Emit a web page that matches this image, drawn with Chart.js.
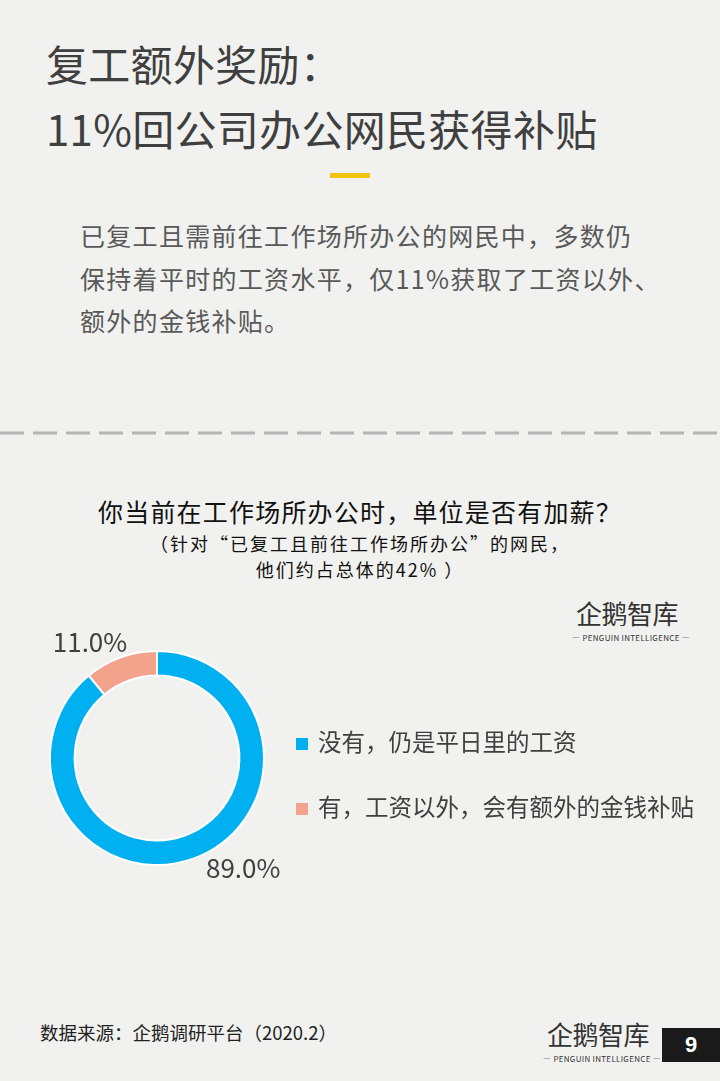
<!DOCTYPE html>
<html lang="zh">
<head>
  <meta charset="UTF-8">
  <title>复工额外奖励</title>
  <script src="https://cdn.jsdelivr.net/npm/chart.js@4/dist/chart.umd.min.js"></script>
  <style>
    html, body { margin: 0; padding: 0; }
    body { width: 720px; height: 1081px; background: #f1f2ef; position: relative; overflow: hidden;
           font-family: "Noto Sans CJK SC", "Noto Sans", sans-serif; }
    .abs { position: absolute; white-space: nowrap; }
    #h1 { left: 46px; top: 30px; font-size: 42px; line-height: 65px; color: #3f3f3f; letter-spacing: 0.3px; }
    #bar { left: 330px; top: 173px; width: 40px; height: 5px; background: #f2c40c; }
    #intro { left: 80px; top: 214px; font-size: 25px; line-height: 42.5px; color: #595959; letter-spacing: 1.3px; }
    #dash { left: 0; top: 431px; width: 720px; height: 4px; }
    #ctitle { left: 0; width: 720px; top: 493px; text-align: center; font-size: 25px; line-height: 36px; color: #111; letter-spacing: 1.2px; }
    .sub { left: 0; width: 720px; text-align: center; font-size: 18px; line-height: 26px; color: #111; letter-spacing: 2px; }
    .logo { text-align: center; color: #333; }
    .logo .big { font-size: 26px; line-height: 38px; letter-spacing: -0.5px; }
    .logo .small { font-size: 8px; line-height: 12px; letter-spacing: 0.3px; }
    #legend { left: 296px; top: 726px; font-size: 23.5px; color: #404040; }
    #legend div { height: 30px; line-height: 30px; margin-bottom: 35px; }
    #legend span.sw { display: inline-block; width: 12px; height: 12px; margin-right: 10px; vertical-align: 1px; }
    #src { left: 40px; top: 1018px; font-size: 18.5px; line-height: 28px; color: #222; }
    #page { left: 662px; top: 1028px; width: 58px; height: 34px; background: #1a1a1a; color: #fff;
            font-size: 22px; font-weight: bold; line-height: 34px; text-align: center; font-family: "Liberation Sans", sans-serif; }
    #donut { position: absolute; left: 7px; top: 608px; }
  </style>
</head>
<body>
<div id="h1" class="abs">复工额外奖励：<br>11%回公司办公网民获得补贴</div>
<div id="bar" class="abs"></div>
<div id="intro" class="abs">已复工且需前往工作场所办公的网民中，多数仍<br>保持着平时的工资水平，仅11%获取了工资以外、<br>额外的金钱补贴。</div>
<svg id="dash" class="abs" width="720" height="4"><line x1="0" y1="2" x2="720" y2="2" stroke="#b4b4b4" stroke-width="3" stroke-dasharray="24 9"/></svg>
<div id="ctitle" class="abs">你当前在工作场所办公时，单位是否有加薪？</div>
<div class="abs sub" style="top:530px;">（针对“已复工且前往工作场所办公”的网民，</div>
<div class="abs sub" style="top:556px;">他们约占总体的42% ）</div>
<div class="abs logo" style="left:572px; top:594px; width:110px;"><div class="big">企鹅智库</div><div class="small">— PENGUIN INTELLIGENCE —</div></div>
<canvas id="donut" width="300" height="300"></canvas>
<div id="legend" class="abs"></div>
<div id="src" class="abs">数据来源：企鹅调研平台（2020.2）</div>
<div class="abs logo" style="left:543px; top:1015px; width:110px;"><div class="big">企鹅智库</div><div class="small">— PENGUIN INTELLIGENCE —</div></div>
<div id="page" class="abs">9</div>
<script>
    const categories = ['没有，仍是平日里的工资', '有，工资以外，会有额外的金钱补贴'];
    const shares = [89.0, 11.0];
    const sliceColors = ['#00b0f0', '#f3a38c'];

    // percentage labels outside the ring, like the office chart's best-fit placement
    const outer_labels = {
        id: 'outer_labels',
        afterDatasetsDraw: (chart, args, opts) => {
            const ctx = chart.ctx;
            const meta = chart.getDatasetMeta(0);
            ctx.save();
            ctx.font = '26px "Noto Sans CJK SC", sans-serif';
            ctx.fillStyle = '#404040';
            ctx.textAlign = 'center';
            ctx.textBaseline = 'middle';
            meta.data.forEach((arc, i) => {
                const a = opts.angles[i] * Math.PI / 180;
                const r = opts.radii[i];
                const x = arc.x + r * Math.sin(a);
                const y = arc.y - r * Math.cos(a);
                ctx.fillText(shares[i].toFixed(1) + '%', x, y);
            });
            ctx.restore();
        }
    };

    const myChart = new Chart(document.getElementById('donut'), {
        type: 'doughnut',
        data: {
            labels: categories,
            datasets: [{
                data: shares,
                backgroundColor: sliceColors,
                borderColor: '#ffffff',
                borderWidth: 2,
                cutout: '77%'
            }]
        },
        options: {
            responsive: false,
            animation: false,
            layout: { padding: 42 },
            plugins: {
                legend: { display: false },
                tooltip: { enabled: false },
                outer_labels: { angles: [142, 330], radii: [140, 134] }
            }
        },
        plugins: [outer_labels]
    });

    // legend built from the same arrays
    const legend = document.getElementById('legend');
    categories.forEach((c, i) => {
        const row = document.createElement('div');
        row.innerHTML = '<span class="sw" style="background:' + sliceColors[i] + '"></span>' + c;
        legend.appendChild(row);
    });
</script>
</body>
</html>
